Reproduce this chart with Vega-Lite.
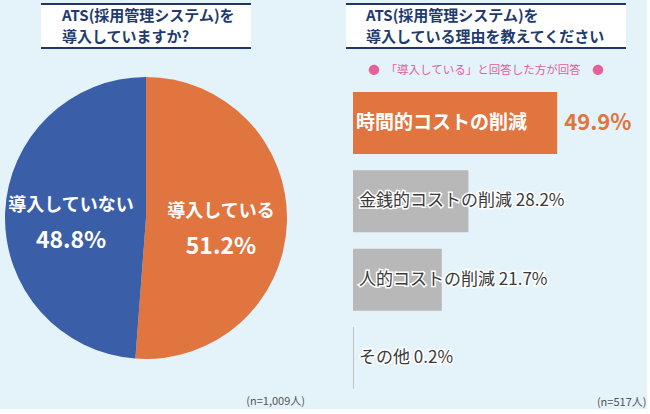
{
  "$schema": "https://vega.github.io/schema/vega-lite/v6.json",
  "background": "#e4f2fa",
  "padding": {"left": 5, "top": 3, "right": 0, "bottom": 0},
  "config": {"font": "Noto Sans CJK JP", "view": {"stroke": null}},
  "resolve": {"scale": {"color": "independent"}},
  "spacing": 40,
  "hconcat": [
    {
      "bounds": "flush",
      "center": true,
      "spacing": 29,
      "title": {"text": "(n=1,009人)", "orient": "bottom", "anchor": "end", "frame": "bounds", "offset": 37, "dx": 18, "fontSize": 11, "fontWeight": "normal", "color": "#555555"},
      "vconcat": [
        {
          "width": 210,
          "height": 44,
          "view": {"fill": "white", "stroke": null},
          "title": {"text": ["ATS(採用管理システム)を", "導入していますか?"], "anchor": "start", "frame": "group", "orient": "top", "baseline": "top", "offset": -42, "dx": 21, "fontSize": 15, "fontWeight": "bold", "color": "#223b6c", "lineHeight": 21},
          "data": {"values": [{"edge": "top"}, {"edge": "bottom"}]},
          "mark": {"type": "rule", "color": "#1e3765", "strokeWidth": 2},
          "encoding": {"y": {"field": "edge", "type": "nominal", "sort": ["top", "bottom"], "scale": {"type": "point", "padding": 0}, "axis": null}}
        },
        {
          "width": 282,
          "height": 282,
          "data": {"values": [
            {"answer": "導入している", "value": 51.2, "label": "51.2%"},
            {"answer": "導入していない", "value": 48.8, "label": "48.8%"}
          ]},
          "encoding": {
            "theta": {"field": "value", "type": "quantitative", "stack": true},
            "order": {"field": "value", "type": "quantitative", "sort": "descending"}
          },
          "layer": [
            {"mark": {"type": "arc"}, "encoding": {"color": {"field": "answer", "type": "nominal", "scale": {"domain": ["導入している", "導入していない"], "range": ["#e07540", "#3b5ea8"]}, "legend": null}}},
            {"mark": {"type": "text", "radius": 75, "dy": -9, "fontSize": 18, "fontWeight": "bold", "color": "white"}, "encoding": {"text": {"field": "answer"}}},
            {"mark": {"type": "text", "radius": 75, "dy": 26, "fontSize": 23, "fontWeight": "bold", "color": "white"}, "encoding": {"text": {"field": "label"}}}
          ]
        }
      ]
    },
    {
      "bounds": "flush",
      "center": true,
      "spacing": 44,
      "title": {"text": "(n=517人)", "orient": "bottom", "anchor": "end", "frame": "bounds", "offset": 8, "dx": 15, "fontSize": 11, "fontWeight": "normal", "color": "#555555"},
      "vconcat": [
        {
          "width": 280,
          "height": 44,
          "view": {"fill": "white", "stroke": null},
          "title": {"text": ["ATS(採用管理システム)を", "導入している理由を教えてください"], "anchor": "start", "frame": "group", "orient": "top", "baseline": "top", "offset": -42, "dx": 20, "fontSize": 15, "fontWeight": "bold", "color": "#223b6c", "lineHeight": 21},
          "data": {"values": [{"edge": "top"}, {"edge": "bottom"}]},
          "mark": {"type": "rule", "color": "#1e3765", "strokeWidth": 2},
          "encoding": {"y": {"field": "edge", "type": "nominal", "sort": ["top", "bottom"], "scale": {"type": "point", "padding": 0}, "axis": null}}
        },
        {
          "width": 266,
          "height": 297,
          "title": {"text": "●　「導入している」と回答した方が回答　●", "orient": "top", "anchor": "middle", "frame": "group", "offset": 16, "fontSize": 11.5, "fontWeight": "normal", "color": "#e3619b"},
          "data": {"values": [
            {"item": "時間的コストの削減", "value": 49.9, "group": "main", "label": "時間的コストの削減", "pct": "49.9%"},
            {"item": "金銭的コストの削減", "value": 28.2, "group": "other", "label": "金銭的コストの削減 28.2%", "pct": ""},
            {"item": "人的コストの削減", "value": 21.7, "group": "other", "label": "人的コストの削減 21.7%", "pct": ""},
            {"item": "その他", "value": 0.2, "group": "other", "label": "その他 0.2%", "pct": ""}
          ]},
          "encoding": {"y": {"field": "item", "type": "nominal", "sort": null, "scale": {"paddingInner": 0.21, "paddingOuter": 0}, "axis": null}},
          "layer": [
            {"mark": {"type": "bar"}, "encoding": {
              "x": {"field": "value", "type": "quantitative", "scale": {"domain": [0, 64.4]}, "axis": null},
              "color": {"field": "group", "type": "nominal", "scale": {"domain": ["main", "other"], "range": ["#e07540", "#b8b8b8"]}, "legend": null}}},
            {"transform": [{"filter": "datum.group === 'main'"}], "mark": {"type": "text", "align": "left", "baseline": "middle", "dx": 3, "fontSize": 19, "fontWeight": "bold", "color": "white"}, "encoding": {"x": {"datum": 0}, "text": {"field": "label"}}},
            {"transform": [{"filter": "datum.group === 'other'"}], "mark": {"type": "text", "align": "left", "baseline": "middle", "dx": 6, "fontSize": 17, "fontWeight": "normal", "color": "white", "stroke": "white", "strokeWidth": 3}, "encoding": {"x": {"datum": 0}, "text": {"field": "label"}}},
            {"transform": [{"filter": "datum.group === 'other'"}], "mark": {"type": "text", "align": "left", "baseline": "middle", "dx": 6, "fontSize": 17, "fontWeight": "normal", "color": "#3a3a3a"}, "encoding": {"x": {"datum": 0}, "text": {"field": "label"}}},
            {"transform": [{"filter": "datum.group === 'main'"}], "mark": {"type": "text", "align": "left", "baseline": "middle", "dx": 7, "fontSize": 22, "fontWeight": "bold", "color": "#e07540"}, "encoding": {"x": {"field": "value", "type": "quantitative"}, "text": {"field": "pct"}}}
          ]
        }
      ]
    }
  ]
}
